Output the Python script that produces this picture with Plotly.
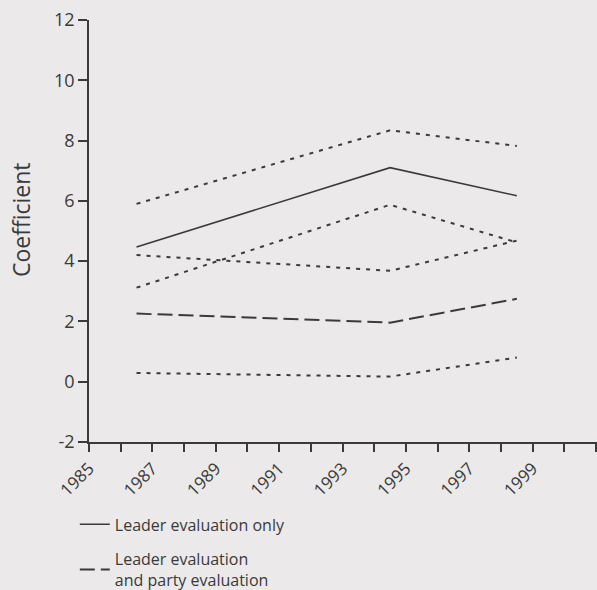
import plotly.graph_objects as go

# Data
years = [1986.5, 1994.5, 1998.5]
leader_only = [4.47, 7.10, 6.17]
leader_only_upper = [5.90, 8.34, 7.82]
leader_only_lower = [3.12, 5.87, 4.62]
leader_party = [2.26, 1.96, 2.75]
leader_party_upper = [4.20, 3.68, 4.68]
leader_party_lower = [0.29, 0.17, 0.80]

x_tick_years = [1985, 1987, 1989, 1991, 1993, 1995, 1997, 1999]
y_ticks = [-2, 0, 2, 4, 6, 8, 10, 12]
y_tick_text = ["-2", "0", "2", "4", "6", "8", "10", "12"]
y_title = "Coefficient"

INK = "#3a3a3a"
BG = "#ebe9e9"
FONT = "Open Sans"
DOT = "4px,6px"
DASH = "15px,6px"

fig = go.Figure()

fig.add_trace(go.Scatter(x=years, y=leader_only, mode="lines",
                         name="Leader evaluation only", legendgroup="a",
                         line=dict(color=INK, width=1.6)))
fig.add_trace(go.Scatter(x=years, y=leader_party, mode="lines",
                         name="Leader evaluation<br>and party evaluation",
                         legendgroup="b",
                         line=dict(color=INK, width=2, dash=DASH)))
for ys in (leader_only_upper, leader_only_lower, leader_party_upper, leader_party_lower):
    fig.add_trace(go.Scatter(x=years, y=ys, mode="lines", showlegend=False,
                             hoverinfo="skip",
                             line=dict(color=INK, width=2, dash=DOT)))

fig.add_annotation(text=y_title, xref="paper", yref="paper", x=0, y=0.526,
                   xshift=-68, xanchor="center", yanchor="middle",
                   textangle=-90, showarrow=False,
                   font=dict(size=23, family=FONT, color=INK))

fig.update_layout(
    width=597, height=590,
    margin=dict(l=89, r=0, t=20, b=148, autoexpand=False),
    paper_bgcolor=BG, plot_bgcolor=BG,
    font=dict(family=FONT, color=INK, size=16),
    showlegend=True,
    legend=dict(xref="container", yref="container", x=0.1253, y=0.14,
                xanchor="left", yanchor="top", bgcolor="rgba(0,0,0,0)",
                font=dict(size=16, family=FONT, color=INK),
                tracegroupgap=11, valign="middle"),
    xaxis=dict(range=[1985, 2001.03], tickvals=x_tick_years,
               ticktext=[str(v) for v in x_tick_years],
               tickangle=-45, ticks="outside", ticklen=8, tickwidth=1.5,
               tickcolor=INK, showline=True, linecolor=INK, linewidth=1.8,
               showgrid=False, zeroline=False, automargin=False,
               tickfont=dict(size=17, family=FONT, color=INK),
               minor=dict(dtick=1, tick0=1985, ticks="outside", ticklen=8,
                          tickwidth=1.5, tickcolor=INK, showgrid=False)),
    yaxis=dict(range=[-2, 12], tickvals=y_ticks, ticktext=y_tick_text,
               ticks="outside", ticklen=9,
               tickwidth=1.5, tickcolor=INK, showline=True, linecolor=INK,
               linewidth=1.8, showgrid=False, zeroline=False, automargin=False,
               tickfont=dict(size=18, family=FONT, color=INK)),
)

fig.write_html("out.html", config={"displayModeBar": False},
               post_script="document.body.style.margin='0';")
